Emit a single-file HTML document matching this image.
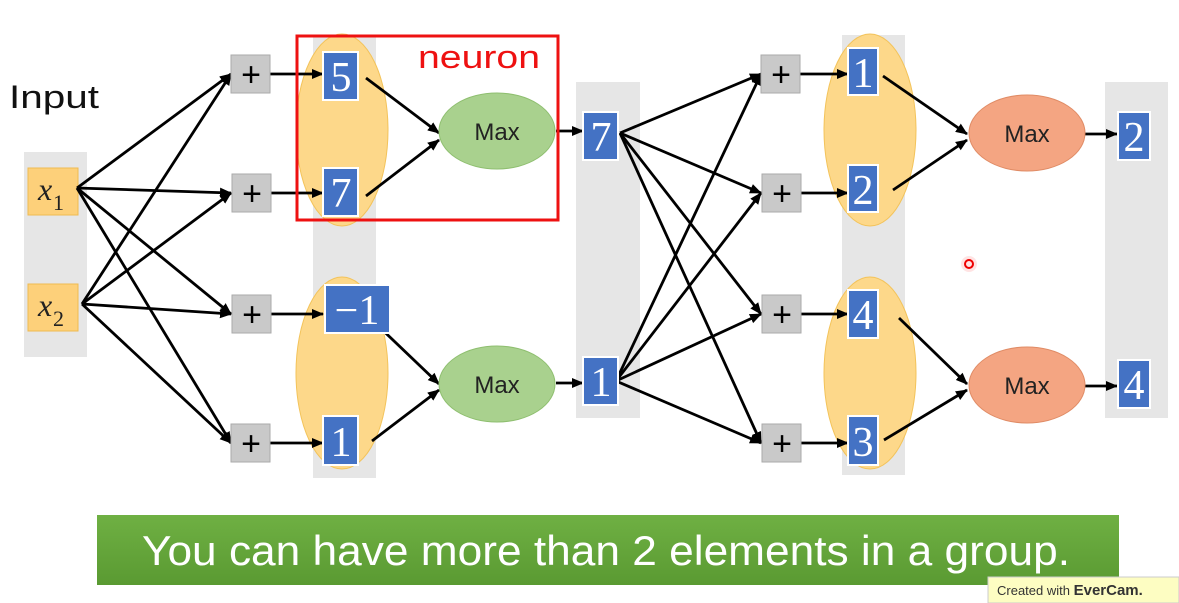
<!DOCTYPE html>
<html><head><meta charset="utf-8"><style>
html,body{margin:0;padding:0;background:#fff;}
svg{display:block;}
</style></head><body>
<svg width="1179" height="603" viewBox="0 0 1179 603" xmlns="http://www.w3.org/2000/svg" font-family="Liberation Sans, sans-serif">
<defs>
<marker id="a" markerWidth="12" markerHeight="12" refX="11" refY="6" orient="auto" markerUnits="userSpaceOnUse"><path d="M0,1 L12,6 L0,11 Z" fill="#000"/></marker>
<linearGradient id="g" x1="0" y1="0" x2="0" y2="1"><stop offset="0" stop-color="#6fb043"/><stop offset="1" stop-color="#5a9a32"/></linearGradient>
</defs>
<rect x="24" y="152" width="63" height="205" fill="#e6e6e6"/>
<rect x="313" y="35" width="63" height="443" fill="#e6e6e6"/>
<rect x="576" y="82" width="64" height="336" fill="#e6e6e6"/>
<rect x="842" y="35" width="63" height="440" fill="#e6e6e6"/>
<rect x="1105" y="82" width="63" height="336" fill="#e6e6e6"/>
<g fill="#fdd88a" stroke="#f3c35a" stroke-width="1">
<ellipse cx="342" cy="130" rx="46" ry="96"/>
<ellipse cx="342" cy="373" rx="46" ry="96"/>
<ellipse cx="870" cy="130" rx="46" ry="96"/>
<ellipse cx="870" cy="373" rx="46" ry="96"/>
</g>
<text x="9" y="108" font-size="32" fill="#111" textLength="90" lengthAdjust="spacingAndGlyphs">Input</text>
<g fill="#fdd07a" stroke="#f0bb50">
<rect x="28" y="168" width="50" height="47"/>
<rect x="28" y="284" width="50" height="47"/>
</g>
<text x="38" y="200" font-family="Liberation Serif, serif" font-style="italic" font-size="32" fill="#222">x</text>
<text x="53" y="210" font-family="Liberation Serif, serif" font-size="22" fill="#222">1</text>
<text x="38" y="316" font-family="Liberation Serif, serif" font-style="italic" font-size="32" fill="#222">x</text>
<text x="53" y="326" font-family="Liberation Serif, serif" font-size="22" fill="#222">2</text>
<g stroke="#000" stroke-width="2.8" marker-end="url(#a)" fill="none">
<line x1="77" y1="188" x2="231" y2="74"/>
<line x1="77" y1="188" x2="231" y2="193"/>
<line x1="77" y1="188" x2="231" y2="314"/>
<line x1="77" y1="188" x2="231" y2="443"/>
<line x1="82" y1="304" x2="231" y2="74"/>
<line x1="82" y1="304" x2="231" y2="193"/>
<line x1="82" y1="304" x2="231" y2="314"/>
<line x1="82" y1="304" x2="231" y2="443"/>
<line x1="270" y1="74" x2="323" y2="74"/>
<line x1="270" y1="193" x2="323" y2="193"/>
<line x1="270" y1="314" x2="323" y2="314"/>
<line x1="270" y1="443" x2="323" y2="443"/>
<line x1="366" y1="78" x2="439" y2="133"/>
<line x1="366" y1="196" x2="439" y2="140"/>
<line x1="372" y1="320" x2="439" y2="384"/>
<line x1="372" y1="441" x2="439" y2="390"/>
<line x1="556" y1="131" x2="583" y2="131"/>
<line x1="556" y1="383" x2="583" y2="383"/>
<line x1="620" y1="133" x2="761" y2="74"/>
<line x1="620" y1="133" x2="761" y2="193"/>
<line x1="620" y1="133" x2="761" y2="314"/>
<line x1="620" y1="133" x2="761" y2="443"/>
<line x1="616" y1="381" x2="761" y2="74"/>
<line x1="616" y1="381" x2="761" y2="193"/>
<line x1="616" y1="381" x2="761" y2="314"/>
<line x1="616" y1="381" x2="761" y2="443"/>
<line x1="800" y1="74" x2="848" y2="74"/>
<line x1="800" y1="193" x2="848" y2="193"/>
<line x1="800" y1="314" x2="848" y2="314"/>
<line x1="800" y1="443" x2="848" y2="443"/>
<line x1="883" y1="76" x2="967" y2="134"/>
<line x1="893" y1="190" x2="967" y2="140"/>
<line x1="899" y1="318" x2="967" y2="384"/>
<line x1="884" y1="440" x2="967" y2="390"/>
<line x1="1084" y1="134" x2="1117" y2="134"/>
<line x1="1084" y1="386" x2="1117" y2="386"/>
</g>
<g fill="#c9c9c9" stroke="#aaa">
<rect x="231" y="55" width="39" height="38"/><rect x="232" y="174" width="39" height="38"/>
<rect x="232" y="295" width="39" height="38"/><rect x="231" y="424" width="39" height="38"/>
<rect x="761" y="55" width="39" height="38"/><rect x="762" y="174" width="39" height="38"/>
<rect x="762" y="295" width="39" height="38"/><rect x="762" y="424" width="39" height="38"/>
</g>
<g font-size="34" fill="#000" text-anchor="middle">
<text x="251" y="86">+</text><text x="252" y="205">+</text><text x="252" y="326">+</text><text x="251" y="455">+</text>
<text x="781" y="86">+</text><text x="782" y="205">+</text><text x="782" y="326">+</text><text x="782" y="455">+</text>
</g>
<g fill="#4472c4" stroke="#fff" stroke-width="2">
<rect x="323" y="52" width="35" height="48"/>
<rect x="323" y="168" width="35" height="48"/>
<rect x="325" y="285" width="65" height="48"/>
<rect x="323" y="416" width="35" height="49"/>
<rect x="583" y="112" width="35" height="48"/>
<rect x="583" y="357" width="35" height="48"/>
<rect x="848" y="48" width="30" height="47"/>
<rect x="848" y="165" width="30" height="47"/>
<rect x="848" y="290" width="30" height="48"/>
<rect x="848" y="416" width="30" height="49"/>
<rect x="1118" y="112" width="32" height="48"/>
<rect x="1118" y="360" width="32" height="48"/>
</g>
<g font-family="Liberation Serif, serif" font-size="42" fill="#fff" text-anchor="middle">
<text x="341" y="91">5</text><text x="341" y="207">7</text><text x="357" y="324">−1</text><text x="341" y="456">1</text>
<text x="601" y="151">7</text><text x="601" y="396">1</text>
<text x="863" y="87">1</text><text x="863" y="204">2</text><text x="863" y="329">4</text><text x="863" y="456">3</text>
<text x="1134" y="151">2</text><text x="1134" y="399">4</text>
</g>
<g stroke-width="1">
<ellipse cx="497" cy="131" rx="58" ry="38" fill="#a9d18e" stroke="#8fbf70"/>
<ellipse cx="497" cy="384" rx="58" ry="38" fill="#a9d18e" stroke="#8fbf70"/>
<ellipse cx="1027" cy="133" rx="58" ry="38" fill="#f4a582" stroke="#e08c66"/>
<ellipse cx="1027" cy="385" rx="58" ry="38" fill="#f4a582" stroke="#e08c66"/>
</g>
<g font-size="24" fill="#222" text-anchor="middle">
<text x="497" y="140">Max</text><text x="497" y="393">Max</text>
<text x="1027" y="142">Max</text><text x="1027" y="394">Max</text>
</g>
<rect x="297" y="36" width="261" height="184" fill="none" stroke="#ee1111" stroke-width="3"/>
<text x="418" y="68" font-size="32" fill="#ee1111" textLength="122" lengthAdjust="spacingAndGlyphs">neuron</text>
<circle cx="969" cy="264" r="8" fill="#ffd0d0" opacity="0.6"/>
<circle cx="969" cy="264" r="4" fill="none" stroke="#e00" stroke-width="2"/>
<rect x="97" y="515" width="1022" height="70" fill="url(#g)"/>
<text x="142" y="565" font-size="42" fill="#fff" textLength="928" lengthAdjust="spacingAndGlyphs">You can have more than 2 elements in a group.</text>
<rect x="988" y="577" width="191" height="26" fill="#fdfdc2" stroke="#ccc" stroke-width="1"/>
<text x="997" y="595" font-size="13" fill="#333">Created with <tspan font-weight="bold" font-size="15">EverCam.</tspan></text>
</svg>
</body></html>
